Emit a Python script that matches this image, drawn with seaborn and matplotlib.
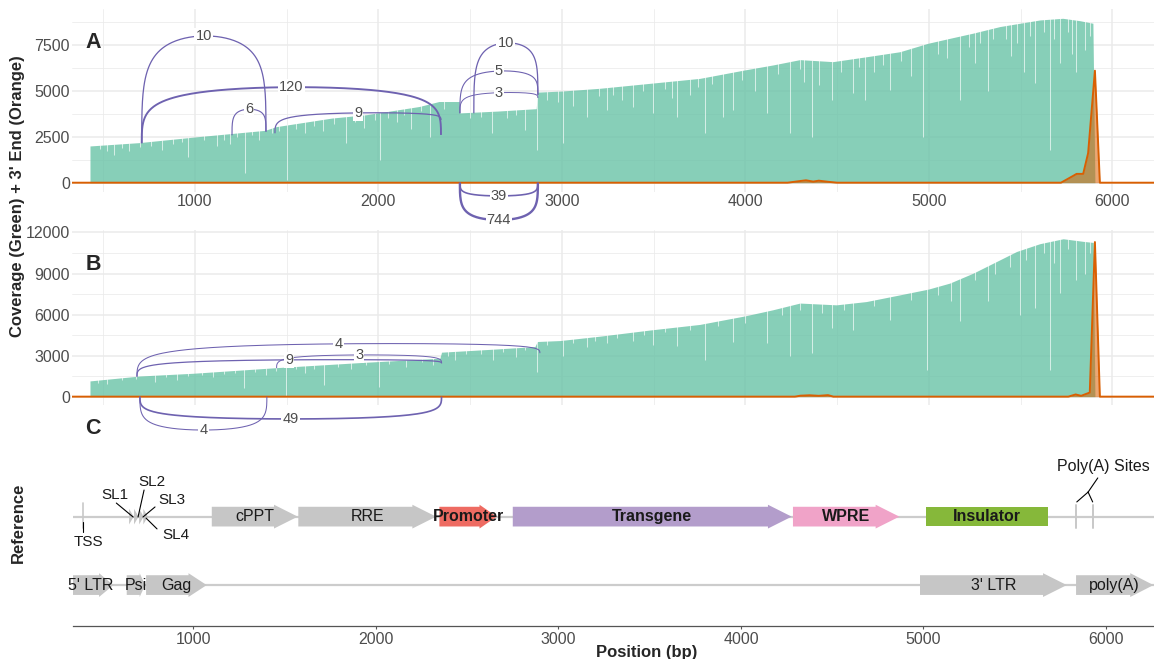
import numpy as np
import matplotlib
matplotlib.use("Agg")
import matplotlib.pyplot as plt
import seaborn as sns
from matplotlib.bezier import BezierSegment
from matplotlib.patches import Polygon

# ---------------- data ----------------
# panel A coverage envelope (bp, reads)
cov_a_pos = [428, 694, 1011, 1382, 1442, 1747, 1933, 2114, 2223, 2330, 2440, 2444, 2650, 2860,
             2867, 3000, 3207, 3480, 3752, 3997, 4150, 4297, 4477, 4662, 4842, 4995, 5114, 5240,
             5387, 5496, 5605, 5730, 5823, 5894, 5905]
cov_a_val = [2000, 2180, 2500, 2850, 3050, 3520, 3700, 3980, 4150, 4420, 4420, 3800, 3900, 4030,
             4930, 4990, 5140, 5410, 5680, 6140, 6410, 6700, 6590, 6860, 7130, 7590, 7860, 8140,
             8500, 8680, 8860, 8950, 8820, 8680, 0]
# panel A coverage dips (bp, reads at bottom of dip)
dip_a_pos = [560, 640, 820, 964, 1120, 1190, 1272, 1350, 1500, 1600, 1700, 1826, 1920, 2008, 2100,
             2180, 2281, 2617, 2798, 2862, 3007, 3060, 3135, 3244, 3330, 3389, 3498, 3625, 3700,
             3779, 3879, 3934, 4050, 4116, 4243, 4361, 4400, 4470, 4588, 4651, 4787, 4900, 4969,
             5169, 5250, 5323, 5450, 5520, 5578, 5659, 5714, 5800, 5850,
             480, 520, 600, 700, 760, 880, 930, 1050, 1160, 1230, 1310, 1420, 1460, 1550, 1650,
             1760, 1870, 1980, 2050, 2140, 2230, 2360, 2500, 2560, 2700, 2750, 2920, 2980, 3200,
             3280, 3440, 3560, 3600, 3740, 3820, 3980, 4180, 4300, 4320, 4520, 4620, 4700, 4750,
             4850, 5050, 5100, 5220, 5280, 5350, 5420, 5480, 5550, 5630, 5680, 5760, 5780, 5880]
dip_a_val = [1500, 1700, 1800, 1420, 2000, 2100, 510, 2300, 150, 2700, 2800, 2150, 3000, 1240, 3300,
             2900, 2500, 2690, 2870, 1780, 2150, 4200, 3590, 3960, 4500, 4140, 3780, 3590, 4800,
             2690, 3590, 3960, 5000, 3780, 2690, 2500, 5300, 4500, 4870, 4500, 5050, 5800, 2500,
             4500, 6500, 5000, 6900, 6000, 5410, 1780, 6500, 6000, 7200,
             1850, 1750, 1900, 1950, 2000, 2100, 2200, 2300, 2350, 2500, 2600, 2700, 2800, 2900, 3100,
             3200, 3300, 3400, 3500, 3700, 3900, 4000, 3500, 3600, 3500, 3700, 4500, 4400, 4700,
             4800, 5000, 5100, 4600, 5200, 5400, 5600, 5900, 6200, 5500, 6000, 6300, 6000, 6400,
             6600, 7000, 6800, 7400, 7600, 7800, 7800, 7600, 8000, 8200, 7800, 8200, 7000, 8000]
# panel A 3' end signal
end_a_pos = [330, 4230, 4290, 4330, 4370, 4400, 4450, 4500, 5720, 5787, 5805, 5841, 5868, 5905, 5932, 6227]
end_a_val = [0, 0, 80, 130, 60, 110, 50, 0, 0, 375, 480, 480, 1610, 6100, 0, 0]

# panel B coverage envelope
cov_b_pos = [428, 700, 991, 1445, 1899, 2335, 2344, 2626, 2853, 2866, 2990, 3207, 3480, 3752, 3997,
             4150, 4297, 4496, 4659, 4842, 4997, 5114, 5242, 5387, 5478, 5605, 5732, 5841, 5896, 5905]
cov_b_val = [1150, 1510, 1710, 2120, 2490, 2810, 3250, 3470, 3660, 4030, 4100, 4420, 4870, 5280, 5900,
             6350, 6840, 6710, 6950, 7440, 7860, 8300, 9030, 10000, 10610, 11180, 11540, 11350, 11270, 0]
dip_b_pos = [520, 780, 900, 1100, 1267, 1390, 1495, 1600, 1703, 1850, 2003, 2150, 2300, 2420, 2626,
             2750, 2862, 3007, 3135, 3244, 3389, 3498, 3625, 3779, 3934, 4116, 4243, 4361, 4470,
             4588, 4787, 4988, 5169, 5323, 5496, 5578, 5659, 5714, 5800, 5850,
             470, 600, 680, 840, 960, 1040, 1160, 1220, 1330, 1440, 1550, 1650, 1780, 1930, 2060,
             2240, 2380, 2480, 2560, 2680, 2800, 2920, 3060, 3180, 3300, 3450, 3560, 3700, 3850,
             4000, 4200, 4300, 4420, 4540, 4700, 4900, 5050, 5120, 5250, 5360, 5440, 5530, 5630,
             5680, 5760, 5880]
dip_b_val = [900, 1100, 1200, 1400, 610, 1600, 50, 1700, 860, 2000, 730, 2200, 2300, 2700, 2690,
             2900, 1830, 3000, 3600, 3900, 4100, 3800, 3700, 2700, 4000, 3900, 3000, 3180, 5000,
             4880, 5600, 1950, 5500, 7000, 6000, 6500, 1950, 7590, 8500, 9000,
             1000, 1200, 1300, 1400, 1500, 1550, 1650, 1700, 1800, 1900, 2000, 2050, 2150, 2300, 2400,
             2500, 3000, 3100, 3100, 3300, 3400, 3800, 3900, 4100, 4300, 4500, 4700, 4900, 5200,
             5400, 6000, 6300, 6100, 6300, 6600, 7100, 7400, 7000, 8500, 9000, 9500, 10000, 10500,
             9800, 10800, 10500]
end_b_pos = [330, 4270, 4300, 4350, 4400, 4450, 4480, 5760, 5800, 5830, 5877, 5905, 5932, 6227]
end_b_val = [0, 0, 70, 100, 60, 110, 0, 0, 160, 60, 300, 11300, 0, 0]

# junction arcs: start, end, y at start, y at end, apex, read count
arc_a_start = [710, 710, 1202, 1436, 2520, 2444, 2444, 2444, 2444]
arc_a_end = [1387, 2341, 1387, 2341, 2869, 2869, 2869, 2869, 2869]
arc_a_y0 = [2150, 2150, 2580, 2690, 3780, 3780, 3780, 0, 0]
arc_a_y1 = [2780, 2600, 2780, 3410, 4780, 4780, 4610, 0, 0]
arc_a_peak = [7990, 5200, 4000, 3800, 7610, 6080, 4900, -720, -2030]
arc_a_count = [10, 120, 6, 9, 10, 5, 3, 39, 744]

arc_b_start = [684, 684, 1445, 700, 700]
arc_b_end = [2880, 2344, 2344, 2344, 1392]
arc_b_y0 = [1460, 1460, 2080, 0, 0]
arc_b_y1 = [3180, 2440, 2440, 0, 0]
arc_b_peak = [3860, 2690, 3050, -1630, -2440]
arc_b_count = [4, 9, 3, 49, 4]

# reference annotation
track1_names = ['cPPT', 'RRE', 'Promoter', 'Transgene', 'WPRE', 'Insulator']
track1_start = [1101, 1575, 2348, 2750, 4285, 5014]
track1_end = [1572, 2330, 2662, 4278, 4868, 5680]
track2_names = ["5' LTR", 'Psi', 'Gag', "3' LTR", 'poly(A)']
track2_start = [300, 635, 741, 4981, 5836]
track2_end = [562, 736, 1073, 5785, 6260]
sl_pos = [663, 690, 718, 741]
sl_names = ['SL1', 'SL2', 'SL3', 'SL4']
tss_pos = 397
polya_sites = [5836, 5927]

# ---------------- style ----------------
GREEN = '#66C2A5'
ORANGE = '#D95F02'
ARC = '#6E62B0'
GREY_TXT = '#4D4D4D'
FEAT_GREY = '#C6C6C6'
track1_colors = [FEAT_GREY, FEAT_GREY, '#EE6B62', '#B39DCB', '#F0A3C8', '#86B83A']
track1_bold = [False, False, True, True, True, True]
track1_arrow = [True, True, True, True, True, False]

sns.set_theme(style="whitegrid")
plt.rcParams['font.family'] = ['Liberation Sans', 'DejaVu Sans']

W, H = 1154, 659
fig = plt.figure(figsize=(W / 100, H / 100), dpi=100)
fig.patch.set_facecolor('white')


def box(left, top, right, bottom):
    return [left / W, 1 - bottom / H, (right - left) / W, (bottom - top) / H]


ax_a = fig.add_axes(box(72, 9.3, 1154, 191.7))
ax_b = fig.add_axes(box(72, 230, 1154, 405))
ax_c = fig.add_axes(box(72.7, 440, 1154, 626))

XLIM = (330, 6227)


def coverage_panel(ax, cpos, cval, dpos, dval, epos, evals, ylim, major, minor):
    ax.set_facecolor('white')
    poly = ax.fill_between(cpos, cval, 0, color=GREEN, alpha=0.78, lw=0, zorder=2)
    dl = ax.vlines(dpos, dval, 30000, colors='white', lw=0.75, alpha=0.65, zorder=2.5)
    dl.set_clip_path(poly.get_paths()[0], ax.transData)
    ax.fill_between(epos, evals, 0, color=ORANGE, alpha=0.55, lw=0, zorder=3)
    sns.lineplot(x=epos, y=evals, ax=ax, color=ORANGE, lw=1.4, zorder=4)
    ax.set_xlim(*XLIM)
    ax.set_ylim(*ylim)
    ax.set_xticks([1000, 2000, 3000, 4000, 5000, 6000])
    ax.set_xticks([500, 1500, 2500, 3500, 4500, 5500], minor=True)
    ax.set_yticks(major)
    ax.set_yticks(minor, minor=True)
    ax.set_yticklabels([str(v) for v in major])
    ax.grid(which='major', color='#EBEBEB', lw=1.1)
    ax.grid(which='minor', color='#EBEBEB', lw=0.55)
    ax.set_axisbelow(True)
    for s in ax.spines.values():
        s.set_visible(False)
    ax.tick_params(axis='both', which='both', length=0, labelsize=11.5, labelcolor=GREY_TXT)
    ax.tick_params(axis='x', pad=2)
    ax.tick_params(axis='y', pad=1.5)
    ax.set_xlabel('')
    ax.set_ylabel('')


def draw_arcs(ax, starts, ends, y0s, y1s, peaks, counts):
    t = np.linspace(0, 1, 150)
    for s, e, a, b, p, c in zip(starts, ends, y0s, y1s, peaks, counts):
        h = (p - (a + b) / 32) * 32 / 30
        ctrl = np.array([[s, a], [s, h], [s, h], [e, h], [e, h], [e, b]], float)
        pts = BezierSegment(ctrl)(t)
        ax.plot(pts[:, 0], pts[:, 1], color=ARC, lw=0.5 + 0.42 * np.log10(c),
                zorder=5, clip_on=False, solid_capstyle='butt')
        ax.text((s + e) / 2, p, str(c), ha='center', va='center', fontsize=10.5,
                color=GREY_TXT, zorder=6, clip_on=False,
                bbox=dict(boxstyle='square,pad=0.08', fc='white', ec='none'))


coverage_panel(ax_a, cov_a_pos, cov_a_val, dip_a_pos, dip_a_val, end_a_pos, end_a_val,
               (-490, 9440), [0, 2500, 5000, 7500], [1250, 3750, 6250, 8750])
coverage_panel(ax_b, cov_b_pos, cov_b_val, dip_b_pos, dip_b_val, end_b_pos, end_b_val,
               (-610, 12180), [0, 3000, 6000, 9000, 12000], [1500, 4500, 7500, 10500])
ax_b.tick_params(axis='x', labelbottom=False)
draw_arcs(ax_a, arc_a_start, arc_a_end, arc_a_y0, arc_a_y1, arc_a_peak, arc_a_count)
draw_arcs(ax_b, arc_b_start, arc_b_end, arc_b_y0, arc_b_y1, arc_b_peak, arc_b_count)

# ---------------- panel C: reference ----------------
Y1, Y2 = 0.588, 0.22
BH, HH = 0.053, 0.064


def arrow(ax, s, e, y, color, pointed=True):
    if pointed:
        hl = min(130, 0.3 * (e - s))
        pts = [(s, y - BH), (e - hl, y - BH), (e - hl, y - HH), (e, y),
               (e - hl, y + HH), (e - hl, y + BH), (s, y + BH)]
    else:
        pts = [(s, y - BH), (e, y - BH), (e, y + BH), (s, y + BH)]
    ax.add_patch(Polygon(pts, closed=True, fc=color, ec='none', zorder=3))


ax_c.set_facecolor('white')
ax_c.grid(False)
ax_c.set_xlim(339, 6263)
ax_c.set_ylim(0, 1)
ax_c.plot([339, 6263], [Y1, Y1], color='#CCCCCC', lw=1.6, zorder=1)
ax_c.plot([339, 6263], [Y2, Y2], color='#CCCCCC', lw=1.6, zorder=1)

for name, s, e, col, bold, pt in zip(track1_names, track1_start, track1_end,
                                     track1_colors, track1_bold, track1_arrow):
    arrow(ax_c, s, e, Y1, col, pt)
    ax_c.text((s + e) / 2, Y1, name, ha='center', va='center', fontsize=11.5,
              fontweight='bold' if bold else 'normal', color='#1A1A1A', zorder=4)

for name, s, e in zip(track2_names, track2_start, track2_end):
    arrow(ax_c, s, e, Y2, FEAT_GREY)
    ax_c.text(max((s + e) / 2, 440), Y2, name, ha='center', va='center', fontsize=11.5,
              color='#1A1A1A', zorder=4)

# stem loops
for p in sl_pos:
    ax_c.add_patch(Polygon([(p - 15, Y1 - 0.042), (p + 10, Y1), (p - 15, Y1 + 0.042)],
                           closed=True, fc=FEAT_GREY, ec='none', zorder=3))
sl_label_xy = [(571, 0.704), (774, 0.774), (883, 0.677), (902, 0.489)]
sl_leader = [((578, 0.661), (670, 0.586)), ((730, 0.731), (697, 0.586)),
             ((790, 0.640), (724, 0.586)), ((801, 0.522), (741, 0.580))]
for name, (lx, ly), (p0, p1) in zip(sl_names, sl_label_xy, sl_leader):
    ax_c.plot([p0[0], p1[0]], [p0[1], p1[1]], color='black', lw=0.8, zorder=4)
    ax_c.text(lx, ly, name, ha='center', va='center', fontsize=11, color='#1A1A1A')

# TSS
ax_c.plot([tss_pos, tss_pos], [0.527, 0.661], color='#C8C8C8', lw=1.2, zorder=2)
ax_c.plot([tss_pos, tss_pos], [0.507, 0.561], color='black', lw=0.8, zorder=4)
ax_c.text(425, 0.454, 'TSS', ha='center', va='center', fontsize=11, color='#1A1A1A')

# poly(A) sites
for p in polya_sites:
    ax_c.plot([p, p], [0.527, 0.651], color='#C8C8C8', lw=1.4, zorder=2)
ax_c.plot([5955, 5902], [0.796, 0.720], color='black', lw=0.8)
ax_c.plot([5902, 5840], [0.720, 0.667], color='black', lw=0.8)
ax_c.plot([5902, 5927], [0.720, 0.667], color='black', lw=0.8)
ax_c.text(5984, 0.855, 'Poly(A) Sites', ha='center', va='center', fontsize=11.5,
          color='#1A1A1A', clip_on=False)

for name, s in ax_c.spines.items():
    s.set_visible(name == 'bottom')
ax_c.spines['bottom'].set_color('#555555')
ax_c.spines['bottom'].set_linewidth(0.9)
ax_c.set_yticks([])
ax_c.set_xticks([1000, 2000, 3000, 4000, 5000, 6000])
ax_c.set_xticklabels(['1000', '2000', '3000', '4000', '5000', '6000'])
ax_c.tick_params(axis='x', length=2.5, width=0.8, color='#555555', labelsize=11.5,
                 labelcolor=GREY_TXT, pad=2, bottom=True)

# ---------------- labels ----------------
fig.text(93 / W, 1 - 42 / H, 'A', fontsize=15.5, fontweight='bold', ha='center', va='center')
fig.text(93 / W, 1 - 265 / H, 'B', fontsize=15.5, fontweight='bold', ha='center', va='center')
fig.text(93 / W, 1 - 428 / H, 'C', fontsize=15.5, fontweight='bold', ha='center', va='center')
fig.text(18 / W, 1 - 196 / H, "Coverage (Green) + 3' End (Orange)", rotation=90,
         fontsize=12, fontweight='bold', ha='center', va='center')
fig.text(18 / W, 1 - 523 / H, 'Reference', rotation=90, fontsize=12, fontweight='bold',
         ha='center', va='center')
fig.text(647 / W, 1 - 652 / H, 'Position (bp)', fontsize=12, fontweight='bold',
         ha='center', va='center')

fig.savefig('out.png', dpi=100, facecolor='white')
